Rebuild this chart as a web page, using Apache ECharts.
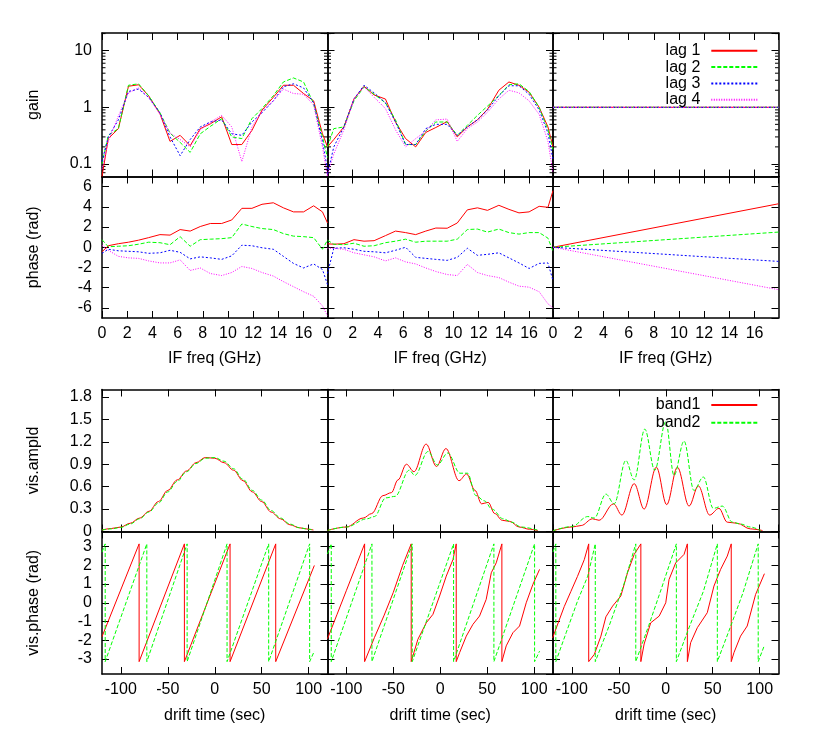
<!DOCTYPE html>
<html>
<head>
<meta charset="utf-8">
<script src="https://cdn.jsdelivr.net/npm/echarts@6/dist/echarts.min.js"></script>
<style>
html, body { margin: 0; padding: 0; background: #fff; }
#chart { width: 830px; height: 746px; }
</style>
</head>
<body>
<div id="chart"></div>
<script>
// ---- data ----
const freqGHz = [0, 0.5, 1.3, 2.1, 2.9, 3.7, 4.6, 5.4, 6.2, 7.0, 7.8, 8.6, 9.5, 10.3, 11.1, 11.9, 12.7, 13.6, 14.4, 15.2, 16.0, 16.8, 17.5, 17.9];
const freqEnds = [0, 17.9];

// gain, lag 1..4
const gainA = [
  [0.06, 0.28, 0.42, 2.35, 2.5, 1.6, 0.77, 0.25, 0.32, 0.21, 0.42, 0.51, 0.68, 0.22, 0.22, 0.39, 0.89, 1.5, 2.45, 2.45, 1.75, 1.3, 0.34, 0.2],
  [0.1, 0.32, 0.42, 2.45, 2.6, 1.6, 0.8, 0.35, 0.24, 0.16, 0.34, 0.46, 0.63, 0.3, 0.28, 0.63, 0.95, 1.6, 2.8, 3.3, 2.8, 1.16, 0.3, 0.13],
  [0.11, 0.3, 0.6, 1.9, 2.1, 1.5, 0.8, 0.3, 0.14, 0.27, 0.45, 0.55, 0.6, 0.34, 0.32, 0.55, 0.8, 1.3, 2.3, 2.6, 2.2, 1.2, 0.25, 0.08],
  [0.08, 0.25, 0.7, 1.8, 2.2, 1.5, 0.75, 0.35, 0.27, 0.2, 0.4, 0.55, 0.72, 0.45, 0.11, 0.45, 0.85, 1.3, 2.1, 1.75, 1.7, 1.1, 0.2, 0.06]
];
const gainB = [
  [0.2, 0.27, 0.45, 1.4, 2.35, 1.65, 1.4, 0.55, 0.28, 0.2, 0.36, 0.44, 0.56, 0.3, 0.45, 0.6, 0.92, 2.0, 2.8, 2.45, 1.85, 1.0, 0.45, 0.2],
  [0.2, 0.42, 0.45, 1.3, 2.3, 1.7, 1.2, 0.6, 0.22, 0.22, 0.38, 0.55, 0.55, 0.32, 0.48, 0.72, 1.05, 1.6, 2.5, 2.6, 1.9, 1.0, 0.4, 0.18],
  [0.066, 0.2, 0.45, 1.4, 2.45, 1.8, 1.2, 0.55, 0.22, 0.22, 0.42, 0.5, 0.5, 0.32, 0.45, 0.6, 0.9, 1.6, 2.4, 2.4, 1.7, 0.9, 0.35, 0.12],
  [0.065, 0.15, 0.4, 1.4, 2.3, 1.5, 0.95, 0.4, 0.2, 0.28, 0.38, 0.6, 0.62, 0.25, 0.42, 0.55, 0.82, 1.4, 2.0, 1.8, 1.3, 0.75, 0.25, 0.07]
];
const gainC = [[1, 1], [1, 1], [1, 1], [1, 1]];

// phase (rad), lag 1..4
const phaseA = [
  [-0.45, 0.15, 0.35, 0.5, 0.7, 0.95, 1.25, 1.2, 1.75, 1.6, 2.05, 2.35, 2.35, 2.7, 3.85, 3.85, 4.25, 4.4, 3.9, 3.5, 3.5, 4.1, 3.5, 2.4],
  [0.75, 0.05, 0.1, 0.15, 0.3, 0.5, 0.45, 0.25, 1.05, 0.1, 0.75, 0.8, 0.85, 0.95, 2.3, 2.05, 1.85, 1.75, 1.35, 1.1, 1.05, 0.95, -0.2, 0.7],
  [-0.6, -0.2, -0.35, -0.4, -0.45, -0.6, -0.55, -0.3, -0.5, -1.15, -0.95, -1.05, -1.2, -0.85, 0.2, 0.15, -0.05, -0.2, -0.9, -1.6, -2.05, -1.65, -2.2, -3.7],
  [0.2, -0.3, -0.9, -1.05, -1.1, -1.35, -1.55, -1.55, -1.25, -2.3, -2.05, -2.6, -2.8, -2.5, -1.9, -2.1, -2.5, -2.85, -3.4, -3.9, -4.4, -4.85, -5.8, -6.8]
];
const phaseB = [
  [0.34, 0.3, 0.35, 0.75, 0.6, 0.65, 1.15, 1.6, 1.45, 1.25, 1.6, 1.9, 1.88, 2.4, 3.7, 3.9, 3.65, 4.15, 3.75, 3.4, 3.5, 4.05, 3.95, 5.6],
  [0.7, 0.3, 0.25, 0.4, 0.1, 0.15, 0.45, 0.6, 0.8, 0.5, 0.6, 0.6, 0.6, 0.8, 1.75, 1.8, 1.5, 1.8, 1.45, 1.3, 1.45, 1.45, 0.9, -0.4],
  [-2.6, -0.1, -0.05, -0.2, -0.4, -0.45, -0.55, -0.3, 0.0, -1.0, -1.1, -1.2, -1.3, -1.0, -0.1, -0.8, -0.7, -0.55, -1.05, -1.55, -2.1, -1.6, -1.55, -3.3],
  [-0.1, -0.1, -0.2, -0.55, -0.75, -0.95, -1.35, -1.05, -1.45, -1.65, -2.05, -2.4, -2.7, -2.8, -1.7, -2.5, -2.8, -3.0, -3.45, -3.85, -3.95, -4.4, -5.6, -6.0]
];
const phaseC = [[0, 4.3], [0, 1.5], [0, -1.4], [0, -4.2]];

const gainMinorTicks = [0.07, 0.08, 0.09, 0.2, 0.3, 0.4, 0.5, 0.6, 0.7, 0.8, 0.9, 2, 3, 4, 5, 6, 7, 8, 9, 20];

// visibility amplitude vs drift time, band1 / band2
const timeA = [-120, -110, -100, -90, -80, -70, -60, -50, -40, -30, -20, -10, 0, 10, 20, 30, 40, 50, 60, 70, 80, 90, 100, 105];
const ampA1 = [0.02, 0.04, 0.06, 0.11, 0.18, 0.27, 0.40, 0.55, 0.69, 0.81, 0.92, 0.99, 0.98, 0.92, 0.82, 0.68, 0.53, 0.40, 0.26, 0.17, 0.09, 0.05, 0.03, 0.02];
const ampA2 = [0.02, 0.035, 0.055, 0.1, 0.17, 0.26, 0.38, 0.53, 0.67, 0.80, 0.91, 0.98, 0.99, 0.94, 0.84, 0.70, 0.55, 0.42, 0.28, 0.18, 0.10, 0.05, 0.03, 0.02];

const timeB1 = [-120, -100, -82, -73, -61, -52, -45, -36, -28, -15, -4, 6, 20, 28, 37, 44, 51, 58, 66, 74, 84, 95, 104];
const ampB1 = [0.015, 0.06, 0.18, 0.24, 0.48, 0.52, 0.69, 0.9, 0.8, 1.17, 0.87, 1.11, 0.68, 0.77, 0.55, 0.37, 0.39, 0.24, 0.15, 0.135, 0.06, 0.03, 0.013];
const timeB2 = [-120, -100, -78, -70, -58, -48, -33, -27, -13, -3, 8, 21, 29, 38, 47, 55, 67, 76, 86, 105];
const ampB2 = [0.015, 0.06, 0.17, 0.2, 0.45, 0.47, 0.82, 0.75, 1.07, 0.89, 1.05, 0.78, 0.78, 0.48, 0.41, 0.3, 0.17, 0.125, 0.06, 0.013];

const timeC1 = [-120, -100, -90, -78, -71, -55.6, -46.7, -33.6, -23, -10, 1, 12.4, 24.8, 34.7, 46.7, 56.6, 65.5, 76, 90, 103];
const ampC1 = [0.01, 0.06, 0.08, 0.17, 0.15, 0.37, 0.22, 0.64, 0.3, 0.86, 0.36, 0.86, 0.34, 0.61, 0.22, 0.31, 0.125, 0.11, 0.035, 0.013];
const timeC2 = [-120, -100, -83, -76, -63.7, -54.9, -42.5, -33.6, -22.3, -11.7, 0, 8.8, 19.5, 30, 40, 50.6, 60.2, 70.8, 79.6, 90, 101];
const ampC2 = [0.01, 0.067, 0.2, 0.18, 0.5, 0.37, 0.95, 0.69, 1.37, 0.82, 1.47, 0.75, 1.21, 0.55, 0.73, 0.31, 0.34, 0.125, 0.1, 0.06, 0.013];

// visibility phase (wrapped), band1 / band2
const ptA1 = [-120, -80.5, -80.5, -32.3, -32.3, 16.3, 16.3, 64.9, 64.9, 106];
const pA1 = [-1.81, 3.14, -3.14, 3.14, -3.14, 3.14, -3.14, 3.14, -3.14, 1.99];
const ptA2 = [-120, -116.6, -116.6, -72.3, -72.3, -29.4, -29.4, 13.1, 13.1, 57.4, 57.4, 101, 101, 106];
const pA2 = [2.7, 3.14, -3.14, 3.14, -3.14, 3.14, -3.14, 3.14, -3.14, 3.14, -3.14, 3.14, -3.14, -2.58];

const ptB1 = [-120, -110, -100, -90, -80.5, -80.5, -70, -60, -50, -40, -30.9, -30.9, -23.8, -14.9, -7.8, -0.7, 6.4, 13.5, 17, 17, 20.6, 27.7, 34.8, 41.8, 48.9, 54.3, 59.6, 65.6, 65.6, 70.2, 77.3, 84.4, 91.5, 98.6, 105.7];
const pB1 = [-1.92, -0.64, 0.64, 1.92, 3.14, -3.14, -1.85, -0.7, 0.55, 2.0, 3.14, -3.14, -1.95, -1.07, -0.62, 0.36, 1.42, 2.3, 3.14, -3.14, -2.66, -1.78, -1.15, -0.71, 0.18, 1.6, 2.13, 3.14, -3.14, -2.3, -1.6, -1.24, 0.0, 0.98, 1.78];
const ptB2 = [-120, -116, -116, -72.7, -72.7, -29.8, -29.8, 14.2, 14.2, 57.1, 57.1, 100.4, 100.4, 105.7];
const pB2 = [2.6, 3.14, -3.14, 3.14, -3.14, 3.14, -3.14, 3.14, -3.14, 3.14, -3.14, 3.14, -3.14, -2.58];

const ptC1 = [-120.4, -108, -101, -94, -86.7, -82, -82, -76, -69, -63.7, -56.6, -47.8, -40.7, -33.6, -26.5, -26.5, -23, -16, -7, 0, 3.5, 10.6, 19.5, 23, 23, 26.5, 33.6, 44.2, 51.3, 58.4, 65.5, 69.7, 69.7, 72.6, 79.6, 86.7, 95.6, 105];
const pC1 = [-1.87, -0.2, 0.6, 1.4, 2.3, 3.14, -3.14, -2.75, -1.78, -0.75, -0.18, 0.36, 1.6, 2.58, 3.14, -3.14, -2.2, -1.07, -0.71, 0, 1.24, 2.13, 2.58, 3.14, -3.14, -2.13, -1.33, -0.53, 0.89, 1.78, 2.49, 3.14, -3.14, -2.66, -1.78, -1.24, 0.44, 1.55];
const ptC2 = [-120, -117, -117, -106, -93.8, -83, -75, -75, -60, -45, -31.9, -31.9, -18, -5, 11.3, 11.3, 25, 40, 54.9, 54.9, 68, 82, 98.4, 98.4, 105];
const pC2 = [2.7, 3.14, -3.14, -1.6, 0.1, 1.42, 3.14, -3.14, -1.2, 0.9, 3.14, -3.14, -1.2, 0.7, 3.14, -3.14, -1.3, 0.6, 3.14, -3.14, -1.4, 0.5, 3.14, -3.14, -2.27];

// ---- styling ----
const FONT = '"Liberation Sans", Arial, sans-serif';
const lagNames = ['lag 1', 'lag 2', 'lag 3', 'lag 4'];
const lagColors = ['#ff0000', '#00ff00', '#0000ff', '#ff00ff'];
const lagDash = ['solid', [4, 2], [2, 2], [1, 1.5]];
const bandNames = ['band1', 'band2'];

const colLeft = [102, 327.5, 553];
const colWidth = 225.5;
const rowTop = [33, 176.5, 389.5, 531.5];
const rowHeight = [143.5, 141.5, 142, 142.5];
const yNames = ['gain', 'phase (rad)', 'vis.ampld', 'vis.phase (rad)'];

function zip(xs, ys) {
  return xs.map((x, i) => [x, ys[i]]);
}

const grids = [], xAxes = [], yAxes = [], series = [];

for (let r = 0; r < 4; r++) {
  for (let c = 0; c < 3; c++) {
    const g = r * 3 + c;
    grids.push({ left: colLeft[c], top: rowTop[r], width: colWidth, height: rowHeight[r], containLabel: false });

    ['bottom', 'top'].forEach(pos => {
      const showLab = pos === 'bottom' && (r === 1 || r === 3);
      const ax = {
        type: 'value', gridIndex: g, position: pos,
        axisLine: { show: true, onZero: false, lineStyle: { color: '#000', width: 1.5 } },
        axisTick: { show: true, inside: true, length: 7, lineStyle: { color: '#000', width: 1 } },
        splitLine: { show: false },
        axisLabel: { show: showLab, color: '#000', fontSize: 16, fontFamily: FONT, margin: 8,
          showMinLabel: r < 2, showMaxLabel: false }
      };
      if (r < 2) {
        ax.min = 0; ax.max = 17.9; ax.interval = 2;
      } else {
        ax.min = -120; ax.max = 120; ax.minInterval = 50; ax.maxInterval = 50;
      }
      if (showLab) {
        ax.name = r === 1 ? 'IF freq (GHz)' : 'drift time (sec)';
        ax.nameLocation = 'middle';
        ax.nameGap = r === 1 ? 33 : 34;
        ax.nameTextStyle = { color: '#000', fontSize: 16, fontFamily: FONT };
      }
      xAxes.push(ax);
    });

    ['left', 'right'].forEach(pos => {
      const showLab = pos === 'left' && c === 0;
      const ay = {
        type: 'value', gridIndex: g, position: pos,
        axisLine: { show: true, onZero: false, lineStyle: { color: '#000', width: 1.5 } },
        axisTick: { show: true, inside: true, length: 7, lineStyle: { color: '#000', width: 1 } },
        splitLine: { show: false },
        axisLabel: { show: showLab, color: '#000', fontSize: 16, fontFamily: FONT, margin: 10,
          showMinLabel: r === 2, showMaxLabel: false }
      };
      if (r === 0) {
        ay.type = 'log'; ay.logBase = 10; ay.min = 0.06; ay.max = 20.5;
      } else if (r === 1) {
        ay.min = -7; ay.max = 7; ay.minInterval = 2; ay.maxInterval = 2;
      } else if (r === 2) {
        ay.min = 0; ay.max = 1.9; ay.interval = 0.3;
      } else {
        ay.min = -3.8; ay.max = 3.8; ay.minInterval = 1; ay.maxInterval = 1;
      }
      if (showLab) {
        ay.name = yNames[r];
        ay.nameLocation = 'middle';
        ay.nameRotate = 90;
        ay.nameGap = 60;
        ay.nameTextStyle = { color: '#000', fontSize: 16, fontFamily: FONT };
      }
      yAxes.push(ay);
    });
  }
}

function lineSeries(g, name, color, dash, data, smooth) {
  return {
    type: 'line', name: name, xAxisIndex: 2 * g, yAxisIndex: 2 * g,
    data: data, symbol: 'none', showSymbol: false,
    smooth: smooth || false, smoothMonotone: smooth ? 'x' : undefined,
    lineStyle: { color: color, width: 1, type: dash },
    itemStyle: { color: color },
    emphasis: { disabled: true },
    animation: false, clip: true
  };
}

// rows 0/1: gain and phase per lag
const gainPanels = [gainA, gainB, gainC];
const phasePanels = [phaseA, phaseB, phaseC];
for (let c = 0; c < 3; c++) {
  const xs = c < 2 ? freqGHz : freqEnds;
  for (let k = 0; k < 4; k++) {
    series.push(lineSeries(c, lagNames[k], lagColors[k], lagDash[k], zip(xs, gainPanels[c][k])));
    series.push(lineSeries(3 + c, lagNames[k], lagColors[k], lagDash[k], zip(xs, phasePanels[c][k])));
  }
  // log minor ticks on left and right of each gain panel
  series.push({
    type: 'custom', xAxisIndex: 2 * c, yAxisIndex: 2 * c, silent: true, animation: false,
    data: gainMinorTicks.map(v => [0, v]),
    renderItem: (params, api) => {
      const y = api.coord([0, api.value(1)])[1];
      const cs = params.coordSys;
      return {
        type: 'group', children: [
          { type: 'line', shape: { x1: cs.x, y1: y, x2: cs.x + 3.5, y2: y }, style: { stroke: '#000', lineWidth: 1 } },
          { type: 'line', shape: { x1: cs.x + cs.width - 3.5, y1: y, x2: cs.x + cs.width, y2: y }, style: { stroke: '#000', lineWidth: 1 } }
        ]
      };
    }
  });
}

// rows 2/3: visibility amplitude and phase per band
const ampPanels = [[zip(timeA, ampA1), zip(timeA, ampA2)], [zip(timeB1, ampB1), zip(timeB2, ampB2)], [zip(timeC1, ampC1), zip(timeC2, ampC2)]];
const visPhasePanels = [[zip(ptA1, pA1), zip(ptA2, pA2)], [zip(ptB1, pB1), zip(ptB2, pB2)], [zip(ptC1, pC1), zip(ptC2, pC2)]];
for (let c = 0; c < 3; c++) {
  for (let k = 0; k < 2; k++) {
    series.push(lineSeries(6 + c, bandNames[k], lagColors[k], lagDash[k], ampPanels[c][k], 0.35));
    series.push(lineSeries(9 + c, bandNames[k], lagColors[k], lagDash[k], visPhasePanels[c][k]));
  }
}

const legendText = { color: '#000', fontSize: 16, fontFamily: FONT, lineHeight: 16, padding: [0, 6, 0, 0] };
// hide the marker dot that line legends draw in the middle of the sample line
const legendDot = { opacity: 0, borderWidth: 0 };

const chart = echarts.init(document.getElementById('chart'), null, { renderer: 'canvas' });
chart.setOption({
  animation: false,
  backgroundColor: '#fff',
  textStyle: { fontFamily: FONT },
  grid: grids,
  xAxis: xAxes,
  yAxis: yAxes,
  legend: [
    { data: lagNames, orient: 'vertical', align: 'right', right: 71.7, top: 42.8, padding: 0,
      itemWidth: 46, itemHeight: 10, itemGap: 0.3, selectedMode: false, textStyle: legendText, itemStyle: legendDot },
    { data: bandNames, orient: 'vertical', align: 'right', right: 71.7, top: 397, padding: 0,
      itemWidth: 46, itemHeight: 10, itemGap: 1.7, selectedMode: false, textStyle: legendText, itemStyle: legendDot }
  ],
  series: series
});
</script>
</body>
</html>
